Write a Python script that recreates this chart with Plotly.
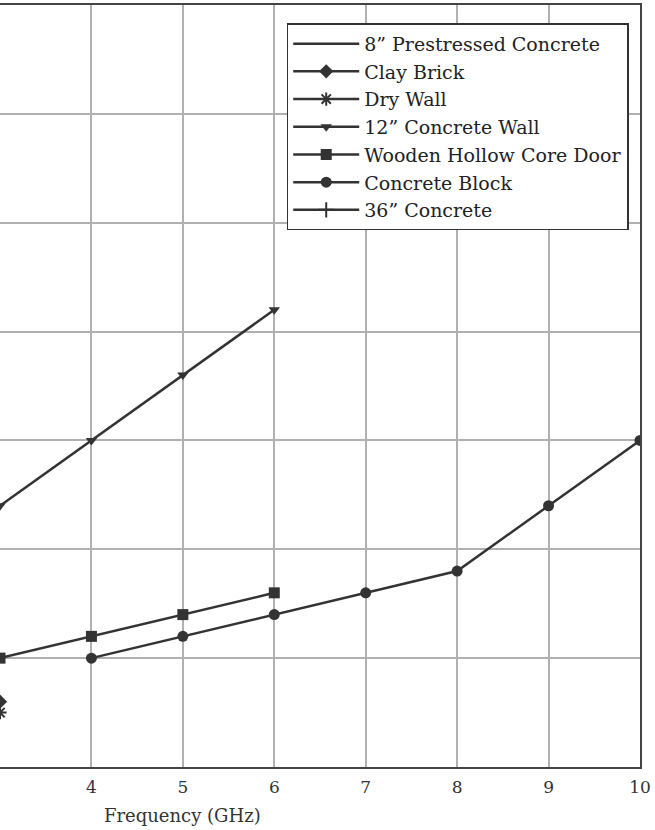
import plotly.graph_objects as go

# attenuation (dB) vs frequency (GHz)
freq_prestressed = [1, 2]
loss_prestressed = [40, 44]

freq_clay = [2, 3]
loss_clay = [2.5, 3]

freq_drywall = [2, 3]
loss_drywall = [2, 2.5]

freq_wall12 = [3, 4, 5, 6]
loss_wall12 = [12, 15, 18, 21]

freq_door = [3, 4, 5, 6]
loss_door = [5, 6, 7, 8]

freq_block = [4, 5, 6, 7, 8, 9, 10]
loss_block = [5, 6, 7, 8, 9, 12, 15]

freq_conc36 = [1, 2]
loss_conc36 = [45, 50]

x_ticks = [3, 4, 5, 6, 7, 8, 9, 10]

line_col = '#333333'
font_family = 'Century Schoolbook, DejaVu Serif, Liberation Serif, serif'

series = [
    ('8\u201d Prestressed Concrete', freq_prestressed, loss_prestressed, None),
    ('Clay Brick', freq_clay, loss_clay, 'diamond'),
    ('Dry Wall', freq_drywall, loss_drywall, 'asterisk-open'),
    ('12\u201d Concrete Wall', freq_wall12, loss_wall12, 'triangle-down'),
    ('Wooden Hollow Core Door', freq_door, loss_door, 'square'),
    ('Concrete Block', freq_block, loss_block, 'circle'),
    ('36\u201d Concrete', freq_conc36, loss_conc36, 'cross-thin-open'),
]

fig = go.Figure()
for name, xs, ys, sym in series:
    if sym is None:
        mode = 'lines'
        marker = None
    else:
        mode = 'lines+markers'
        size = 11
        if sym == 'triangle-down':
            size = 10
        if sym in ('asterisk-open', 'cross-thin-open'):
            marker = dict(symbol=sym, size=size, color=line_col, line=dict(color=line_col, width=2))
        else:
            marker = dict(symbol=sym, size=size, color=line_col)
    fig.add_trace(go.Scatter(x=xs, y=ys, name=name, mode=mode,
                             line=dict(color=line_col, width=2.5),
                             marker=marker))

fig.add_annotation(x=5, y=-0.047, xref='x', yref='paper', text='Frequency (GHz)',
                   showarrow=False, yanchor='top',
                   font=dict(family=font_family, size=18, color='#333333'))

fig.update_layout(
    width=655, height=830,
    margin=dict(l=0, r=15, t=5, b=63, autoexpand=False),
    plot_bgcolor='white', paper_bgcolor='white',
    font=dict(family=font_family, color='#333333'),
    showlegend=True,
    legend=dict(x=0.448, y=0.976, xanchor='left', yanchor='top',
                bordercolor='#333333', borderwidth=1.5, bgcolor='white',
                font=dict(family=font_family, size=19, color='#222222'),
                tracegroupgap=0, itemwidth=66),
    xaxis=dict(range=[3, 10], tickvals=x_ticks, ticks='', showgrid=True,
               gridcolor='#b0b0b0', gridwidth=1.5, showline=True, linecolor='#444444',
               linewidth=2, mirror=True, zeroline=False, automargin=False,
               ticklabelstandoff=4,
               tickfont=dict(family=font_family, size=17, color='#333333')),
    yaxis=dict(range=[0, 35], dtick=5, showticklabels=False, ticks='', showgrid=True,
               gridcolor='#b0b0b0', gridwidth=1.5, side='right', showline=True,
               linecolor='#444444', linewidth=2, zeroline=False, automargin=False),
)

# page body has a default 8px margin, drop it so the figure sits at 0,0
fig.write_html("out.html", config={'displayModeBar': False},
               post_script="document.body.style.margin='0px';")
